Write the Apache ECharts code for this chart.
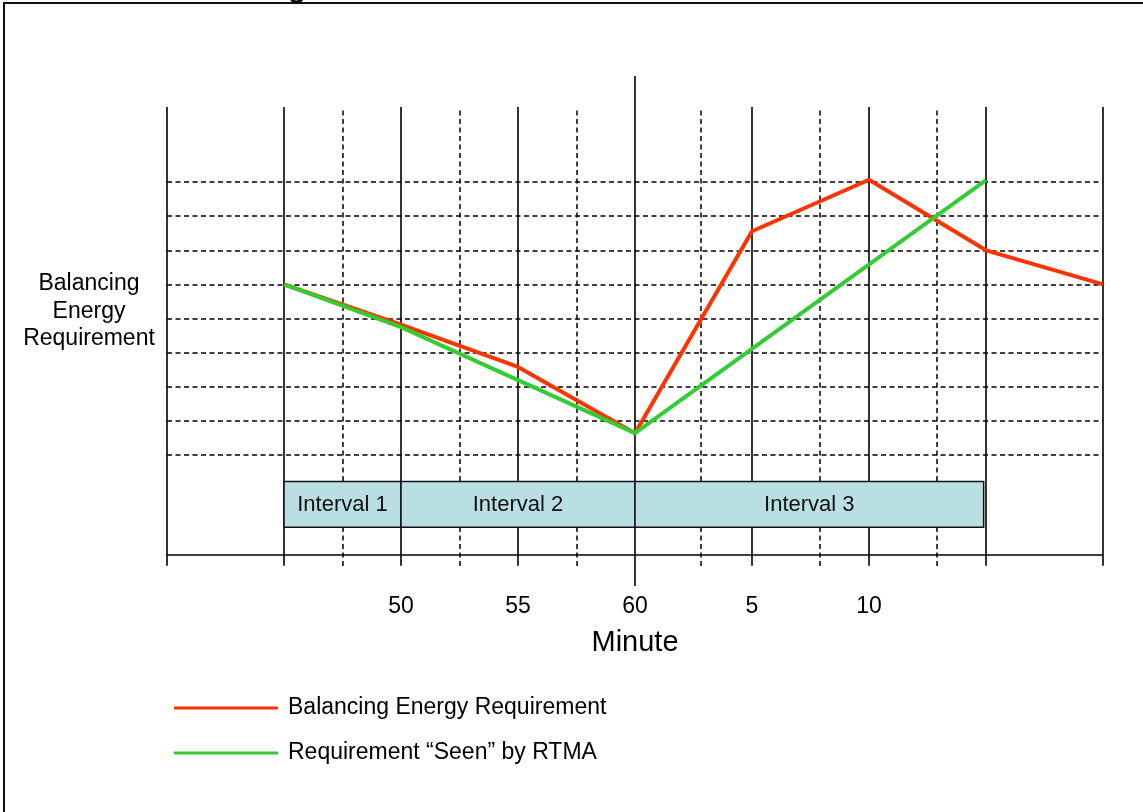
<!DOCTYPE html>
<html>
<head>
<meta charset="utf-8">
<title>Balancing Energy Requirement</title>
<script src="https://cdn.jsdelivr.net/npm/echarts@6/dist/echarts.min.js"></script>
<style>
  html, body { margin: 0; padding: 0; background: #fff; }
  #chart { width: 1143px; height: 812px; }
</style>
</head>
<body>
<div id="chart"></div>
<script>
  // minutes counted on from the previous hour: 65 = 5, 70 = 10
  var minutes = [45, 50, 55, 60, 65, 70, 75, 80];
  var requirement = [6.0, 4.82, 3.58, 1.64, 7.56, 9.07, 7.0, 6.0];

  var seenMinutes = [45, 50, 60, 75];
  var seenByRtma = [6.0, 4.75, 1.64, 9.06];

  var tickValues = [50, 55, 60, 65, 70];
  var tickLabels = ['50', '55', '60', '5', '10'];

  var intervalNames = ['Interval 1', 'Interval 2', 'Interval 3'];
  var intervalStart = [45, 50, 60];
  var intervalEnd = [50, 60, 74.9];

  // grid drawing (in axis units)
  var solidX = [40, 45, 50, 55, 65, 70, 75, 80];
  var dashedX = [47.5, 52.5, 57.5, 62.8, 67.9, 72.9];
  var levels = [1, 2, 3, 4, 5, 6, 7, 8, 9];

  var Y_MIN = -2.84, Y_MAX = 12.11;
  var LINE_TOP = 11.2, TICK_BOTTOM = -2.25, BASE = -1.93;
  var BOX_TOP = 0.22, BOX_BOTTOM = -1.12;

  var font = '"Liberation Sans", Arial, Helvetica, sans-serif';
  var redName = 'Balancing Energy Requirement';
  var greenName = 'Requirement \u201cSeen\u201d by RTMA';

  function pairs(xs, ys) {
    return xs.map(function (x, i) { return [x, ys[i]]; });
  }

  var solidLines = [];
  solidX.forEach(function (x) {
    solidLines.push([{ coord: [x, LINE_TOP] }, { coord: [x, TICK_BOTTOM] }]);
  });
  solidLines.push([{ coord: [60, Y_MAX] }, { coord: [60, Y_MIN] }]);
  solidLines.push([{ coord: [40, BASE] }, { coord: [80, BASE] }]);

  var dashedLines = [];
  levels.forEach(function (y) {
    dashedLines.push([{ coord: [40, y] }, { coord: [80, y] }]);
  });
  dashedX.forEach(function (x) {
    dashedLines.push([{ coord: [x, LINE_TOP - 0.1] }, { coord: [x, TICK_BOTTOM - 0.05] }]);
  });

  var boxes = intervalNames.map(function (n, i) {
    return [{ name: n, coord: [intervalStart[i], BOX_TOP] }, { coord: [intervalEnd[i], BOX_BOTTOM] }];
  });

  var chart = echarts.init(document.getElementById('chart'));
  chart.setOption({
    backgroundColor: '#fff',
    animation: false,
    grid: { left: 167, right: 40, top: 76, bottom: 226 },
    xAxis: {
      type: 'value', min: 40, max: 80, interval: 5,
      axisLine: { show: false },
      axisTick: { show: false },
      splitLine: { show: false },
      axisLabel: {
        margin: 21, verticalAlign: 'middle', color: '#000',
        fontSize: 23, fontFamily: font,
        showMinLabel: true, showMaxLabel: true,
        formatter: function (v) {
          var i = tickValues.indexOf(v);
          return i >= 0 ? tickLabels[i] : '';
        }
      },
      name: 'Minute', nameLocation: 'middle', nameGap: 57,
      nameTextStyle: { fontSize: 29, color: '#000', fontFamily: font, verticalAlign: 'middle' }
    },
    yAxis: { type: 'value', min: Y_MIN, max: Y_MAX, show: false },
    legend: {
      orient: 'vertical', left: 174, top: 695, padding: 0,
      itemWidth: 104, itemHeight: 3, itemGap: 19,
      icon: 'rect', selectedMode: false,
      data: [redName, greenName],
      textStyle: { fontSize: 23, color: '#000', fontFamily: font, lineHeight: 26, padding: [0, 0, 0, 5] }
    },
    graphic: [
      {
        type: 'rect', silent: true,
        shape: { x: 4, y: 3, width: 1400, height: 1000 },
        style: { fill: 'none', stroke: '#111', lineWidth: 2 }
      },
      {
        type: 'text', silent: true, x: 297, y: 3.5,
        style: { text: 'g', fontSize: 36, fontFamily: font, fill: '#000',
          align: 'center', textAlign: 'center', verticalAlign: 'bottom', textVerticalAlign: 'bottom' }
      },
      {
        type: 'text', silent: true, x: 89, y: 311.5,
        style: {
          text: 'Balancing\nEnergy\nRequirement', fontSize: 23, fontFamily: font,
          lineHeight: 27.5, fill: '#000',
          align: 'center', textAlign: 'center', verticalAlign: 'middle', textVerticalAlign: 'middle'
        }
      }
    ],
    series: [
      {
        name: 'solid', type: 'line', data: [], z: 1, silent: true,
        markLine: {
          z: 1, silent: true, symbol: ['none', 'none'], label: { show: false },
          lineStyle: { color: '#000', width: 1.6, type: 'solid' },
          emphasis: { disabled: true },
          data: solidLines
        }
      },
      {
        name: 'dashed', type: 'line', data: [], z: 1, silent: true,
        markLine: {
          z: 1, silent: true, symbol: ['none', 'none'], label: { show: false },
          lineStyle: { color: '#000', width: 1.5, type: [5, 3.5] },
          emphasis: { disabled: true },
          data: dashedLines
        }
      },
      {
        name: 'intervals', type: 'line', data: [], z: 3, silent: true,
        markArea: {
          z: 4, silent: true,
          itemStyle: { color: '#b9dfe3', opacity: 1, borderColor: '#111', borderWidth: 1.5 },
          label: { show: true, position: 'inside', color: '#111', fontSize: 22, fontFamily: font },
          emphasis: { disabled: true },
          data: boxes
        }
      },
      {
        name: redName, type: 'line', z: 5, symbol: 'none',
        data: pairs(minutes, requirement),
        itemStyle: { color: '#ff3300' },
        lineStyle: { color: '#ff3300', width: 4 }
      },
      {
        name: greenName, type: 'line', z: 6, symbol: 'none',
        data: pairs(seenMinutes, seenByRtma),
        itemStyle: { color: '#33cc33' },
        lineStyle: { color: '#33cc33', width: 4 }
      }
    ]
  });
</script>
</body>
</html>
